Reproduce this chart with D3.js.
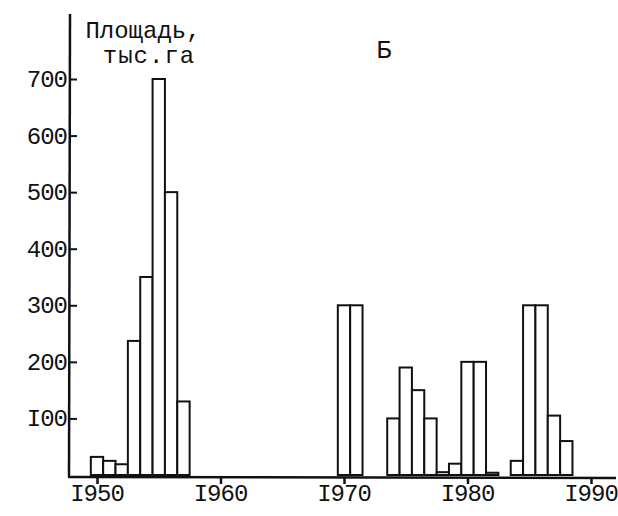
<!DOCTYPE html>
<html>
<head>
<meta charset="utf-8">
<script src="https://cdn.jsdelivr.net/npm/d3@7"></script>
<style>
  body { margin: 0; background: #fff; }
  text { font-family: "Liberation Mono", "DejaVu Sans Mono", monospace; fill: #111; }
</style>
</head>
<body>
<svg width="618" height="516"></svg>
<script>
// bar years and areas (thousand ha)
var years  = [1950, 1951, 1952, 1953, 1954, 1955, 1956, 1957,
              1970, 1971,
              1974, 1975, 1976, 1977, 1978, 1979, 1980, 1981, 1982,
              1984, 1985, 1986, 1987, 1988];
var areas  = [32, 25, 19, 237, 350, 700, 500, 130,
              300, 300,
              100, 190, 150, 100, 5, 20, 200, 200, 4,
              25, 300, 300, 105, 60];
var yTicks = [100, 200, 300, 400, 500, 600, 700];
var xTicks = [1950, 1960, 1970, 1980, 1990];

var svg = d3.select("svg");

// scales
var x = d3.scaleLinear().domain([1950, 1990]).range([97, 591]);
var y = d3.scaleLinear().domain([0, 700]).range([475, 79]);

var bars = years.map(function(d, i) { return {year: d, value: areas[i]}; });

// bars: each one year wide, centred on its year
svg.selectAll("rect.bar")
  .data(bars)
  .enter()
  .append("rect")
    .attr("class", "bar")
    .attr("x", function(d) { return x(d.year - 0.5); })
    .attr("y", function(d) { return y(d.value); })
    .attr("width", function(d) { return x(d.year + 0.5) - x(d.year - 0.5); })
    .attr("height", function(d) { return y(0) - y(d.value); })
    .attr("fill", "#fff")
    .attr("stroke", "#111")
    .attr("stroke-width", 2);

// y axis: ticks point inward, labels on the left
var yAxis = d3.axisRight(y).tickValues(yTicks).tickSize(7).tickFormat("");
var gy = svg.append("g")
  .attr("transform", "translate(70,0)")
  .call(yAxis);
gy.select(".domain").remove();
gy.selectAll(".tick line").attr("stroke", "#111").attr("stroke-width", 2);

svg.append("line")
  .attr("x1", 70).attr("x2", 69)
  .attr("y1", 14).attr("y2", 477)
  .attr("stroke", "#111").attr("stroke-width", 2.5);

svg.selectAll("text.ylab")
  .data(yTicks)
  .enter()
  .append("text")
    .attr("class", "ylab")
    .attr("x", 67)
    .attr("y", function(d) { return y(d) + 8; })
    .attr("text-anchor", "end")
    .style("font-size", "24px")
    .style("letter-spacing", "-1px")
    .text(function(d) { return String(d).replace(/^1/, "I"); });

// x axis: ticks point down
var xAxis = d3.axisBottom(x).tickValues(xTicks).tickSize(7).tickFormat("");
var gx = svg.append("g")
  .attr("transform", "translate(0,477)")
  .call(xAxis);
gx.select(".domain").remove();
gx.selectAll(".tick line").attr("stroke", "#111").attr("stroke-width", 2.5);

svg.append("line")
  .attr("x1", 68).attr("x2", 616)
  .attr("y1", 477).attr("y2", 478)
  .attr("stroke", "#111").attr("stroke-width", 2.5);

svg.selectAll("text.xlab")
  .data(xTicks)
  .enter()
  .append("text")
    .attr("class", "xlab")
    .attr("x", function(d) { return x(d); })
    .attr("y", 501)
    .attr("text-anchor", "middle")
    .style("font-size", "24px")
    .style("letter-spacing", "-1px")
    .text(function(d) { return String(d).replace(/^1/, "I"); });

// axis title and panel letter
svg.append("text")
  .attr("x", 143).attr("y", 38)
  .attr("text-anchor", "middle")
  .style("font-size", "24px")
  .text("Площадь,");
svg.append("text")
  .attr("x", 149).attr("y", 63)
  .attr("text-anchor", "middle")
  .style("font-size", "24px")
  .style("letter-spacing", "1px")
  .text("тыс.га");
svg.append("text")
  .attr("x", 384).attr("y", 58)
  .attr("text-anchor", "middle")
  .style("font-size", "25px")
  .text("Б");
</script>
</body>
</html>
